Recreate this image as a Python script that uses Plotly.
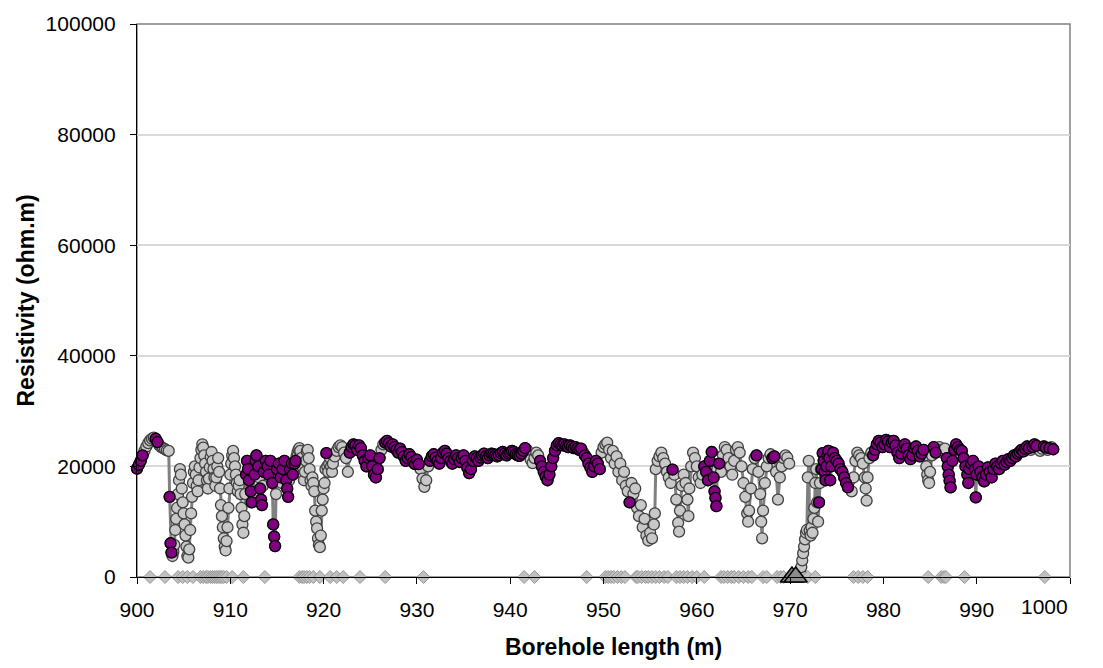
import plotly.graph_objects as go

# ---------------- data ----------------
depth = [
    900.0, 900.2, 900.4, 900.6, 900.8, 901.0, 901.2, 901.4, 901.6, 901.8, 902.0, 902.2, 902.4, 902.6, 902.8, 903.0, 903.2, 903.4,
    903.5, 903.6, 903.7, 903.8, 903.9, 904.0, 904.1, 904.2, 904.3, 904.4, 904.5, 904.6, 904.7, 904.8, 904.9, 905.0,
    905.1, 905.2, 905.3, 905.4, 905.5, 905.6, 905.7, 905.8, 905.9, 906.0, 906.1, 906.2, 906.3, 906.4, 906.5, 906.6,
    906.7, 906.8, 906.9, 907.0, 907.1, 907.2, 907.3, 907.4, 907.5, 907.6, 907.7, 907.8, 907.9, 908.0, 908.1, 908.2,
    908.3, 908.4, 908.5, 908.6, 908.7, 908.8, 908.9, 909.0, 909.1, 909.2, 909.3, 909.4, 909.5, 909.6, 909.7, 909.8,
    909.9, 910.0, 910.1, 910.2, 910.3, 910.4, 910.5, 910.6, 910.7, 910.8, 910.9, 911.0, 911.1, 911.2, 911.3, 911.4, 911.5,
    911.6, 911.7, 911.8, 911.9, 912.0, 912.2, 912.3, 912.4, 912.6, 912.7, 912.8, 913.0, 913.1, 913.2, 913.3, 913.4,
    913.5, 913.6, 913.8, 914.0, 914.1, 914.3, 914.4, 914.5, 914.6, 914.7, 914.8, 914.9, 915.0, 915.2, 915.4, 915.5,
    915.6, 915.8, 915.9, 916.0, 916.1, 916.2, 916.3, 916.4, 916.6, 916.7, 916.8, 916.9, 917.0,
    917.1, 917.2, 917.3, 917.4, 917.5, 917.6, 917.7, 917.8, 917.9, 918.0, 918.1, 918.2, 918.3, 918.4, 918.5, 918.6,
    918.7, 918.8, 918.9, 919.0, 919.1, 919.2, 919.3, 919.4, 919.5, 919.6, 919.7, 919.8, 919.9, 920.0, 920.1, 920.2,
    920.3, 920.4, 920.5, 920.6, 920.7, 920.8, 920.9, 921.0, 921.2, 921.4, 921.6, 921.8, 922.0, 922.2, 922.4, 922.6,
    922.8, 923.0, 923.2, 923.4, 923.6, 923.8, 924.0, 924.2, 924.4, 924.6, 924.8, 925.0, 925.2, 925.4, 925.6, 925.8,
    926.0, 926.2, 926.4, 926.6, 926.8, 927.0, 927.2, 927.4, 927.6, 927.8, 928.0, 928.2, 928.4, 928.6, 928.8, 929.0,
    929.2, 929.4, 929.6, 929.8, 930.0, 930.2, 930.4, 930.6, 930.8, 931.0, 931.2, 931.4, 931.6, 931.8, 932.0, 932.2,
    932.4, 932.6, 932.8, 933.0, 933.2, 933.4, 933.6, 933.8, 934.0, 934.2, 934.4, 934.6, 934.8, 935.0, 935.2, 935.4,
    935.6, 935.8, 936.0, 936.2, 936.4, 936.6, 936.8, 937.0, 937.2, 937.4, 937.6, 937.8, 938.0, 938.2, 938.4, 938.6,
    938.8, 939.0, 939.2, 939.4, 939.6, 939.8, 940.0, 940.2, 940.4, 940.6, 940.8, 941.0, 941.2, 941.4, 941.6, 941.8,
    942.0, 942.2, 942.4, 942.6, 942.8, 943.0, 943.2, 943.4, 943.6, 943.8, 944.0, 944.2, 944.4, 944.6, 944.8, 945.0,
    945.2, 945.4, 945.6, 945.8, 946.0, 946.2, 946.4, 946.6, 946.8, 947.0, 947.2, 947.4, 947.6, 947.8, 948.0, 948.2,
    948.4, 948.6, 948.8, 949.0, 949.2, 949.4, 949.6, 949.8, 950.0, 950.2,
    950.4, 950.6, 950.8, 951.0, 951.2, 951.4, 951.6, 951.8, 952.0, 952.2, 952.4, 952.6, 952.8, 953.0, 953.2, 953.4,
    953.6, 953.8, 954.0, 954.2, 954.4, 954.6, 954.8, 955.0, 955.2, 955.4, 955.5, 955.6, 955.8, 956.0, 956.2, 956.4,
    956.6, 956.8, 957.0, 957.2, 957.4, 957.6, 957.8, 958.0, 958.1, 958.2, 958.4, 958.6, 958.8, 959.0, 959.1, 959.2,
    959.4, 959.6, 959.8, 960.0, 960.2, 960.4, 960.6, 960.8, 961.0, 961.2, 961.4, 961.6, 961.8, 961.9, 962.0, 962.1,
    962.2, 962.4, 962.6, 962.8, 963.0, 963.2, 963.4, 963.6, 963.8, 964.0, 964.2, 964.4, 964.6, 964.8, 965.0, 965.2,
    965.4, 965.5, 965.6, 965.8, 966.0, 966.2, 966.4, 966.6, 966.8, 966.9, 967.0, 967.1, 967.3, 967.5, 967.7, 967.9,
    968.1, 968.3, 968.5, 968.7, 968.9, 969.1, 969.3, 969.5, 969.7, 969.9,
    970.5,
    971.0, 971.1, 971.2, 971.3, 971.4, 971.5, 971.6, 971.7, 971.8, 971.9, 972.0, 972.1, 972.2, 972.3, 972.4, 972.5,
    972.6, 972.7, 972.8, 972.9, 973.0, 973.1, 973.2, 973.3, 973.4, 973.5, 973.6, 973.7, 973.8, 973.9, 974.0, 974.1,
    974.2, 974.3, 974.4, 974.6, 974.8, 975.0, 975.2, 975.4, 975.6, 975.8, 976.0, 976.2, 976.4, 976.6, 976.8, 977.0,
    977.2, 977.4, 977.6, 977.8, 978.0, 978.1, 978.2, 978.3, 978.5, 978.7, 978.9, 979.1, 979.3, 979.5, 979.7, 979.9,
    980.1, 980.3, 980.5, 980.7, 980.9, 981.1, 981.3, 981.5, 981.7, 981.9, 982.1, 982.3, 982.5, 982.7, 982.9, 983.1,
    983.3, 983.5, 983.7, 983.9, 984.1, 984.3, 984.5, 984.6, 984.7, 984.8, 984.9, 985.0, 985.2, 985.4, 985.6, 985.8,
    986.0, 986.2, 986.4, 986.6, 986.8, 986.9, 987.0, 987.1, 987.2, 987.4, 987.6, 987.8, 988.0, 988.2, 988.4, 988.6,
    988.8, 989.0, 989.1, 989.2, 989.4, 989.6, 989.8, 989.9, 990.0, 990.2, 990.4, 990.6, 990.8, 991.0, 991.2, 991.4,
    991.6, 991.8, 992.0, 992.2, 992.4, 992.6, 992.8, 993.0, 993.2, 993.4, 993.6, 993.8, 994.0, 994.2, 994.4, 994.6,
    994.8, 995.0, 995.2, 995.4, 995.6, 995.8, 996.0, 996.2, 996.4, 996.6, 996.8, 997.0, 997.2, 997.4, 997.6, 997.8,
    998.0, 998.2,
]

resistivity = [
    19600, 20300, 21000, 22000, 22800, 23600, 24200, 24700, 25000, 25200, 25000, 24400, 23800, 23500, 23300, 23100, 22900, 22800,
    14500, 6100, 4400, 3800, 4600, 5800, 8500, 10500, 12500, 15000, 17500, 19500, 18500, 16000, 13500, 11500,
    9500, 7500, 5500, 3800, 3500, 5000, 8500, 11500, 14500, 17000, 19000, 20000, 18500, 16500, 15500, 17500,
    19800, 21500, 23000, 24000, 23400, 22000, 20500, 19000, 17500, 16000, 17800, 19800, 21700, 22600, 21000, 19500,
    18000, 16500, 18000, 20000, 21500, 19000, 16000, 13000, 11000, 9000, 7000, 5500, 4800, 6500, 9000, 12500,
    16000, 18500, 20500, 22000, 22800, 21500, 20000, 18500, 17000, 15500, 16500, 17500, 15000, 12500, 9500, 8000, 11000,
    15000, 18500, 21000, 19500, 17500, 15500, 13500, 15000, 18500, 21000, 22000, 20000, 18000, 16000, 14000, 13000,
    16500, 19000, 21000, 20000, 18500, 21000, 20500, 17000, 9500, 7300, 5600, 15000, 19500, 20500, 18000, 17000,
    19500, 21000, 19000, 17500, 16000, 14500, 17500, 19500, 20500, 18500, 19500, 20500, 21000,
    21800, 22500, 23000, 23300, 22800, 21500, 20000, 18500, 17500, 19000, 21000, 22700, 23000, 21500, 19500, 17500,
    16500, 18000, 17000, 15500, 12000, 10000, 8800, 7000, 5800, 5400, 7500, 12000, 14000, 16000, 17000, 19500,
    22400, 20000, 19000, 20500, 21500, 20000, 19000, 20500, 21800, 22800, 23500, 23800, 23500, 22500, 21500, 19000,
    22500, 23500, 24000, 23800, 23000, 23800, 23300, 22000, 21000, 20000, 21500, 22000, 20000, 18500, 18000, 19500,
    21500, 23000, 24000, 24300, 24600, 24200, 23600, 24000, 23500, 23000, 22500, 23200, 22600, 21800, 21000, 21500,
    22200, 21700, 20800, 20400, 21200, 20400, 19500, 17800, 16300, 17500, 20000, 21000, 21800, 22200, 21600, 21000,
    20500, 21500, 22500, 22800, 22300, 21500, 21000, 20500, 21300, 22000, 21500, 20800, 21500, 22000, 21000, 19800,
    18800, 19500, 21000, 21800, 21500, 21000, 21600, 22000, 22300, 21800, 21500, 22000, 22300, 22200, 22000, 21800,
    22000, 22400, 22600, 22300, 22000, 22300, 22500, 22800, 22600, 22200, 22000, 21900, 22300, 22800, 23300, 23000,
    22000, 21200, 20600, 21500, 22500, 22000, 21000, 20000, 19000, 18200, 17500, 18500, 20000, 21500, 22800, 23800,
    24200, 24000, 23800, 24000, 23700, 23500, 23800, 23600, 23300, 23500, 23200, 23000, 23200, 22600, 22000, 21500,
    20500, 19800, 19000, 20000, 21000, 20500, 19500, 22500, 23500, 24000,
    24300, 23000, 21500, 22800, 20500, 21800, 19000, 20500, 17500, 19000, 16500, 15500, 13500, 17000, 15000, 16000,
    12500, 11000, 13000, 9000, 10500, 7500, 6600, 8000, 7000, 9500, 11500, 19500, 21000, 21800, 22500, 21500,
    20500, 19000, 18000, 17000, 19400, 18500, 14000, 9800, 8200, 12000, 16500, 18500, 17000, 14000, 11000, 16000,
    20000, 22500, 21500, 20000, 18000, 17000, 18500, 20000, 19000, 17500, 21000, 22600, 18000, 15500, 14300, 12800,
    19500, 20500, 19000, 22000, 23500, 23000, 21500, 20000, 18500, 21000, 23000, 23500, 22500, 20000, 17000, 14500,
    11500, 10000, 12000, 16000, 19500, 21500, 22000, 19000, 15000, 10000, 7000, 12000, 17000, 20000, 21500, 22200,
    21500, 21800, 19000, 14000, 18000, 20000, 21500, 22000, 21600, 20500,
    None,
    300, 1000, 1800, 3000, 4300, 5500, 6800, 8000, 8500, 18000, 21000, 8400, 7500, 9000, 8000, 10500,
    12500, 17000, 19500, 13500, 10000, 13500, 17000, 19500, 19500, 22400, 21000, 19000, 17500, 20000, 22000, 22800,
    21500, 17500, 20000, 22500, 21500, 21000, 20500, 19500, 19000, 18000, 17000, 16200, 17500, 15500, 18000, 21000,
    22500, 22000, 21500, 20500, 18000, 16000, 13800, 18000, 21500, 22500, 22000, 23000, 24000, 24600, 24300, 23500,
    24000, 24800, 24500, 23500, 24300, 24600, 23800, 22500, 21500, 22300, 23500, 24000, 23200, 22000, 21300, 22000,
    23300, 23600, 22800, 21800, 22300, 23000, 22000, 20000, 18500, 17500, 17000, 19000, 22000, 23500, 22500, 23000,
    23500, 23000, 22500, 23200, 21500, 20000, 18500, 17400, 16200, 21000, 23000, 24000, 23500, 23000, 22800, 21500,
    20000, 18500, 17000, 19500, 20500, 21000, 19500, 14400, 18500, 20000, 19000, 18000, 17300, 18500, 19800, 19000,
    18000, 19500, 20500, 20000, 19500, 20500, 21000, 20300, 20800, 21300, 21000, 21500, 22000, 21800, 22300, 22600,
    23000, 22700, 23200, 23600, 23300, 23000, 23500, 24000, 23700, 23200, 22800, 23200, 23600, 23400, 23000, 23300,
    23500, 23100,
]
assert len(depth) == len(resistivity), (len(depth), len(resistivity))

purple_depths = [
    900.0, 900.2, 900.4, 900.6, 902.0, 902.2,
    903.5, 903.6, 903.7,
    911.7, 911.8, 911.9, 912.0, 912.2, 912.3, 912.6, 912.7, 912.8, 913.0, 913.2, 913.3, 913.4, 913.6, 913.8, 914.0,
    914.1, 914.3, 914.5, 914.6, 914.7, 914.8, 915.0, 915.2, 915.4, 915.6, 915.8, 916.0, 916.1, 916.2, 916.4, 916.6,
    916.7, 916.9, 917.0,
    920.3,
    922.8, 923.0, 923.2, 923.4, 923.6, 923.8, 924.0, 924.2, 924.4, 924.6, 924.8, 925.0, 925.2, 925.4, 925.6, 925.8,
    926.0, 926.6, 926.8, 927.0, 927.2, 927.4, 927.6, 927.8, 928.0, 928.2, 928.4, 928.6, 928.8, 929.0, 929.2, 929.4,
    929.6, 929.8, 930.0, 930.2,
    931.4, 931.6, 931.8, 932.0, 932.2, 932.4, 932.6, 932.8, 933.0, 933.2, 933.4, 933.6, 933.8, 934.0, 934.2, 934.4,
    934.6, 934.8, 935.0, 935.2, 935.4, 935.6, 935.8, 936.0, 936.2, 936.4, 936.6, 936.8, 937.0, 937.2, 937.4, 937.6,
    937.8, 938.0, 938.2, 938.4, 938.6, 938.8, 939.0, 939.2, 939.4, 939.6, 939.8, 940.0, 940.2, 940.4, 940.6, 940.8,
    941.0, 941.2, 941.4, 941.6,
    943.2, 943.4, 943.6, 943.8, 944.0, 944.2, 944.4, 944.6, 944.8, 945.0, 945.2, 945.4, 945.6, 945.8, 946.0, 946.2,
    946.4, 946.6, 946.8, 947.0, 947.2, 947.4, 947.6, 948.0, 948.2, 948.4, 948.6, 948.8, 949.0, 949.2, 949.4, 949.6,
    952.8, 957.4,
    960.8, 961.0, 961.2, 961.4, 961.6, 961.8, 961.9, 962.0, 962.1, 962.4,
    966.4, 968.1, 968.3,
    973.1, 973.4, 973.5, 973.6, 973.7, 973.8, 973.9, 974.0, 974.1, 974.2, 974.3, 974.4, 974.6, 974.8, 975.0, 975.2,
    975.4, 975.6, 975.8, 976.0, 976.2,
    978.9, 979.1, 979.3, 979.5, 979.7, 979.9, 980.1, 980.3, 980.5, 980.7, 980.9, 981.1, 981.3, 981.5, 981.7, 981.9,
    982.1, 982.3, 982.5, 982.7, 982.9, 983.1, 983.3, 983.5, 983.7, 983.9, 984.1, 984.3,
    985.4, 985.6,
    986.8, 986.9, 987.0, 987.1, 987.2, 987.4, 987.6, 987.8, 988.0, 988.2, 988.4, 988.6, 988.8, 989.0, 989.1, 989.2,
    989.4, 989.6, 989.8, 989.9, 990.0, 990.2, 990.4, 990.6, 990.8, 991.0, 991.2, 991.4, 991.6, 991.8, 992.0, 992.2,
    992.4, 992.6, 992.8, 993.0, 993.2, 993.4, 993.6, 993.8, 994.0, 994.2, 994.4, 994.6, 994.8, 995.0, 995.2, 995.4,
    995.6, 996.0, 996.2, 996.4, 997.2, 997.4, 997.8, 998.2,
]

# depths of diamond markers along the baseline (value 0)
diamond_depths = [
    901.4, 903.0, 904.4, 904.9, 905.4, 906.0, 906.8, 907.1, 907.4, 907.6, 907.9, 908.1, 908.3, 908.5, 908.7, 908.9,
    909.1, 909.3, 909.6, 910.2, 911.4, 913.7, 917.4, 917.7, 917.9, 918.2, 918.5, 918.9, 919.6, 920.7, 921.4, 922.1,
    923.9, 926.6, 930.7, 941.5, 942.6, 948.2, 950.2, 950.5, 950.8, 951.1, 951.5, 951.9, 952.3, 953.5, 953.7, 954.1,
    954.5, 954.8, 955.2, 955.6, 956.0, 956.5, 956.9, 957.8, 958.2, 958.6, 959.0, 959.5, 960.0, 960.8, 962.6, 962.9,
    963.3, 963.7, 964.0, 964.5, 965.0, 965.5, 965.9, 967.1, 967.5, 968.6, 969.0, 969.3, 971.9, 972.7, 976.8, 977.3,
    977.8, 978.3, 984.8, 986.2, 986.5, 986.7, 988.7, 997.3,
]
diamond_values = [0] * len(diamond_depths)

# triangle markers on the baseline
triangle_depths = [970.2, 970.6]
triangle_values = [0, 0]

x_ticks = [900, 910, 920, 930, 940, 950, 960, 970, 980, 990, 1000]
x_tick_text = ["900", "910", "920", "930", "940", "950", "960", "970", "980", "990", ""]
y_ticks = [0, 20000, 40000, 60000, 80000, 100000]

# ---------------- figure ----------------
lookup = {round(d, 1): r for d, r in zip(depth, resistivity)}
purple_values = [lookup[round(d, 1)] for d in purple_depths]

FONT = "Liberation Sans, Arial, sans-serif"
TICK = 21
TITLE = 23

fig = go.Figure()

fig.add_trace(go.Scatter(
    x=depth, y=resistivity, mode="lines+markers", connectgaps=False,
    line=dict(color="#808080", width=3),
    marker=dict(size=11, color="#c8c8c8", line=dict(color="#404040", width=1.3)),
    cliponaxis=False, showlegend=False,
))
fig.add_trace(go.Scatter(
    x=purple_depths, y=purple_values, mode="markers",
    marker=dict(size=11, color="#800080", line=dict(color="#000000", width=1.3)),
    cliponaxis=False, showlegend=False,
))
fig.add_trace(go.Scatter(
    x=diamond_depths, y=diamond_values, mode="markers",
    marker=dict(symbol="diamond", size=10, color="#c0c0c0", line=dict(color="#969696", width=1)),
    cliponaxis=False, showlegend=False,
))
fig.add_trace(go.Scatter(
    x=triangle_depths, y=triangle_values, mode="markers",
    marker=dict(symbol="triangle-up", size=20, color="#8c8c8c", opacity=1,
                line=dict(color="#000000", width=1.5)),
    cliponaxis=False, showlegend=False,
))

fig.update_layout(
    width=1103, height=668,
    margin=dict(l=137, r=33, t=20, b=91),
    paper_bgcolor="white", plot_bgcolor="white",
    font=dict(family=FONT, size=TICK, color="black"),
    shapes=[dict(type="rect", xref="paper", yref="paper", x0=0, y0=0, x1=1, y1=1,
                 line=dict(color="#808080", width=1.5), layer="below")],
    annotations=[
        dict(text="1000", x=1000, xref="x", y=0, yref="paper", xanchor="right", yanchor="top",
             yshift=-16, showarrow=False, font=dict(family=FONT, size=TICK, color="black")),
        dict(text="<b>Borehole length (m)</b>", x=0.5, xref="paper", y=0, yref="paper",
             xanchor="center", yanchor="middle", xshift=10, yshift=-70, showarrow=False,
             font=dict(family=FONT, size=TITLE, color="black")),
        dict(text="<b>Resistivity (ohm.m)</b>", x=0, xref="paper", y=0.5, yref="paper",
             xanchor="center", yanchor="middle", xshift=-112, textangle=-90, showarrow=False,
             font=dict(family=FONT, size=TITLE, color="black")),
    ],
)
fig.update_xaxes(
    range=[900, 1000], tickvals=x_ticks, ticktext=x_tick_text,
    ticks="outside", ticklen=6, tickcolor="black", tickwidth=1, ticklabelstandoff=8,
    showline=True, linecolor="black", linewidth=1.2, showgrid=False, zeroline=False,
    tickfont=dict(family=FONT, size=TICK, color="black"),
)
fig.update_yaxes(
    range=[0, 100000], tickvals=y_ticks, tickformat="d",
    ticks="outside", ticklen=6, tickcolor="black", tickwidth=1, ticklabelstandoff=10,
    showline=True, linecolor="black", linewidth=1.2,
    showgrid=True, gridcolor="#d9d9d9", gridwidth=1.5, zeroline=False,
    tickfont=dict(family=FONT, size=TICK, color="black"),
)

fig.write_html("out.html")
